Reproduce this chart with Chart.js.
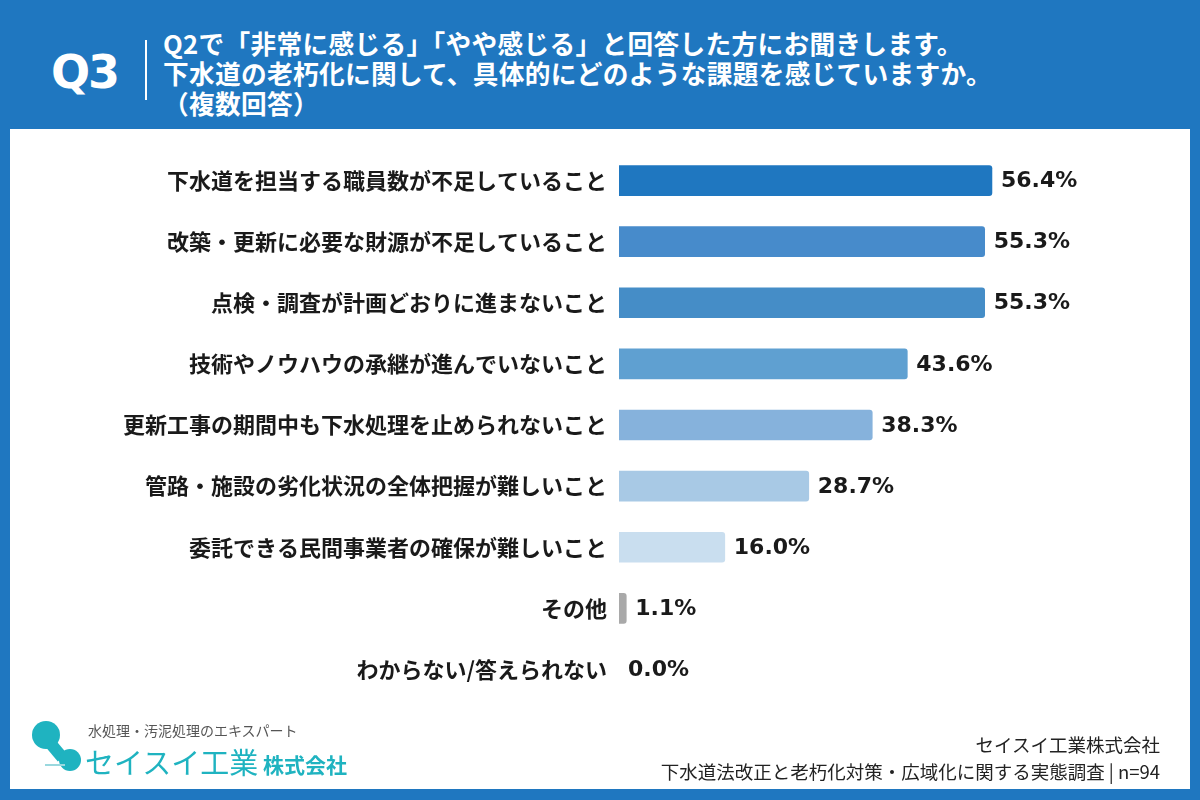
<!DOCTYPE html>
<html lang="ja">
<head>
<meta charset="utf-8">
<script src="https://cdn.jsdelivr.net/npm/chart.js@4/dist/chart.umd.min.js"></script>
<style>
  body { margin: 0; width: 1200px; height: 800px; background: #1f77c0; position: relative; overflow: hidden;
         font-family: "Noto Sans CJK JP", "Noto Sans", sans-serif; }
  #panel { position: absolute; left: 10px; top: 129px; width: 1180px; height: 660px; background: #fff; }
  #q { position: absolute; left: 51px; top: 45px; color: #fff; font: bold 46px "DejaVu Sans", sans-serif; letter-spacing: -2px; }
  #sep { position: absolute; left: 145px; top: 40px; width: 2px; height: 60px; background: #fff; }
  #title { position: absolute; left: 163px; top: 28px; color: #fff; font-weight: bold; font-size: 25.7px; line-height: 30px; letter-spacing: 0.3px; }
  #wrap { position: absolute; left: 10px; top: 129px; width: 1180px; height: 660px; }
  #foot { position: absolute; right: 40px; top: 731px; text-align: right; color: #222; font-size: 18.5px; line-height: 27px; }
  .logo-sub { position: absolute; left: 88px; top: 720px; color: #555; font-size: 14px; }
  .logo-main { position: absolute; left: 85px; top: 740px; color: #1fb3c0; font-size: 29px; }
  .logo-kk { position: absolute; left: 263px; top: 749px; color: #1fb3c0; font-size: 21px; font-weight: bold; }
  .dot { position: absolute; border-radius: 50%; background: #1fb3c0; }
</style>
</head>
<body>
<div id="panel"></div>
<div id="q">Q3</div>
<div id="sep"></div>
<div id="title">Q2で「非常に感じる」「やや感じる」と回答した方にお聞きします。<br>下水道の老朽化に関して、具体的にどのような課題を感じていますか。<br>（複数回答）</div>
<div id="wrap"><canvas id="chart"></canvas></div>
<div class="dot" style="left:32px;top:721px;width:28px;height:28px;"></div>
<div style="position:absolute;left:50px;top:740px;width:12px;height:20px;background:#1fb3c0;transform:rotate(-40deg);"></div>
<div class="dot" style="left:59px;top:749px;width:22px;height:22px;"></div>
<div style="position:absolute;left:45px;top:764px;width:20px;height:2px;background:#9ad8de;"></div>
<div class="logo-sub">水処理・汚泥処理のエキスパート</div>
<div class="logo-main">セイスイ工業</div>
<div class="logo-kk">株式会社</div>
<div id="foot">セイスイ工業株式会社<br>下水道法改正と老朽化対策・広域化に関する実態調査 | n=94</div>
<script>
const categories = [
  '下水道を担当する職員数が不足していること',
  '改築・更新に必要な財源が不足していること',
  '点検・調査が計画どおりに進まないこと',
  '技術やノウハウの承継が進んでいないこと',
  '更新工事の期間中も下水処理を止められないこと',
  '管路・施設の劣化状況の全体把握が難しいこと',
  '委託できる民間事業者の確保が難しいこと',
  'その他',
  'わからない/答えられない'
];
const values = [56.4, 55.3, 55.3, 43.6, 38.3, 28.7, 16.0, 1.1, 0.0];
const barColors = ['#1f77c0', '#478bcb', '#458dc7', '#5fa0d1', '#86b2dc', '#a8c9e5', '#c9deef', '#a9a9a9', 'rgba(0,0,0,0)'];

const valueLabels = {
  id: 'valueLabels',
  afterDatasetsDraw(chart) {
    const ctx = chart.ctx;
    const meta = chart.getDatasetMeta(0);
    ctx.save();
    ctx.font = 'bold 22px "DejaVu Sans", sans-serif';
    ctx.fillStyle = '#1a1a1a';
    ctx.textBaseline = 'middle';
    ctx.textAlign = 'left';
    meta.data.forEach((bar, i) => {
      ctx.fillText(values[i].toFixed(1) + '%', bar.x + 9, bar.y + 1);
    });
    ctx.restore();
  }
};

new Chart(document.getElementById('chart'), {
  type: 'bar',
  data: {
    labels: categories,
    datasets: [{
      data: values,
      backgroundColor: barColors,
      borderRadius: 3,
      borderSkipped: 'start',
      barThickness: 30
    }]
  },
  options: {
    indexAxis: 'y',
    responsive: true,
    maintainAspectRatio: false,
    animation: false,
    layout: { padding: { left: 0, right: 42, top: 21, bottom: 89 } },
    plugins: { legend: { display: false }, tooltip: { enabled: false } },
    scales: {
      x: { display: false, min: 0, max: 80 },
      y: {
        grid: { display: false },
        border: { display: false },
        afterFit(scale) { scale.width = 609; },
        ticks: {
          padding: 4,
          color: '#1a1a1a',
          font: { family: '"Noto Sans CJK JP", sans-serif', size: 22, weight: 'bold' }
        }
      }
    }
  },
  plugins: [valueLabels]
});
</script>
</body>
</html>
